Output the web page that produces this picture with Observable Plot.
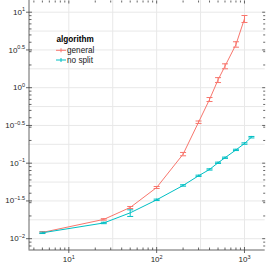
<!DOCTYPE html>
<html><head><meta charset="utf-8">
<script src="https://cdn.jsdelivr.net/npm/d3@7"></script>
<script src="https://cdn.jsdelivr.net/npm/@observablehq/plot@0.6"></script>
<style>
html,body{margin:0;padding:0;background:#fff;}
#wrap{position:relative;width:266px;height:266px;}
#legend{position:absolute;left:0;top:0;pointer-events:none;}
</style></head><body>
<div id="wrap"></div>
<script>
// ---- data ----
const algorithms = ["general", "no split"];
const colors = ["#F8766D", "#00BFC4"];

const generalN    = [5, 25, 50, 100, 200, 300, 400, 500, 600, 800, 1000];
const generalTime = [0.0121, 0.0180, 0.0259, 0.0476, 0.1315, 0.349, 0.698, 1.27, 1.93, 3.73, 8.18];
const generalLow  = [0.0118, 0.0176, 0.0251, 0.0462, 0.1253, 0.336, 0.656, 1.17, 1.78, 3.44, 7.31];
const generalHigh = [0.0124, 0.0184, 0.0267, 0.0491, 0.1387, 0.362, 0.741, 1.36, 2.07, 4.06, 9.04];

const noSplitN    = [5, 25, 50, 100, 200, 300, 400, 500, 600, 800, 1000, 1200];
const noSplitTime = [0.01197, 0.01614, 0.0220, 0.0327, 0.0507, 0.0681, 0.0826, 0.1012, 0.118, 0.150, 0.182, 0.221];
const noSplitLow  = [0.0117, 0.0158, 0.0197, 0.0320, 0.0496, 0.0668, 0.0810, 0.0992, 0.1157, 0.1470, 0.1780, 0.2160];
const noSplitHigh = [0.0122, 0.0165, 0.0241, 0.0334, 0.0518, 0.0694, 0.0842, 0.1032, 0.1203, 0.1530, 0.1860, 0.2260];

// tick positions (exponents of 10)
const xMajorExp = [1, 2, 3];
const xGridExp  = [1, 1.5, 2, 2.5, 3];
const yMajorExp = [-2, -1.5, -1, -0.5, 0, 0.5, 1];
const yGridExp  = [-2, -1.75, -1.5, -1.25, -1, -0.75, -0.5, -0.25, 0, 0.25, 0.5, 0.75, 1];
const minorMult = [2, 3, 4, 5, 6, 7, 8, 9];
const xDomain = [3.52, 1722];
const yDomain = [0.00708, 14.29];

// ---- build table ----
const rows = [];
generalN.forEach((n, i) => rows.push({algorithm: algorithms[0], n, t: generalTime[i], lo: generalLow[i], hi: generalHigh[i]}));
noSplitN.forEach((n, i) => rows.push({algorithm: algorithms[1], n, t: noSplitTime[i], lo: noSplitLow[i], hi: noSplitHigh[i]}));

const p10 = e => Math.pow(10, e);
const minorIn = (dom, decs) => decs.flatMap(k => minorMult.map(m => m * p10(k))).filter(v => v > dom[0] && v < dom[1]);
const xMinor = minorIn(xDomain, [0, 1, 2, 3]);
const yMinor = minorIn(yDomain, [-3, -2, -1, 0, 1]);
const xMajor = xMajorExp.map(p10);
const yMajor = yMajorExp.map(p10);

const fmtExp = d => {
  const e = Math.round(Math.log10(d) * 10) / 10;
  return "10^" + String(e).replace("-", "\u2212");
};

const tickShape = {draw(ctx, l) { ctx.moveTo(0, 0); ctx.lineTo(0, -l); }};
const hline = {draw(ctx, size) { const w = Math.sqrt(size / Math.PI); ctx.moveTo(-w, 0); ctx.lineTo(w, 0); }};
const axisColor = "#404040";
const tk = (data, o) => Plot.vector(data, {shape: tickShape, stroke: axisColor, strokeWidth: 0.8, strokeLinecap: "butt", ...o});

const plot = Plot.plot({
  width: 266, height: 266,
  marginLeft: 28.5, marginRight: 1.3, marginTop: 0, marginBottom: 16.5,
  style: {fontFamily: "'Liberation Sans', Arial, sans-serif", fontSize: "8px", color: "#262626", background: "#fff"},
  x: {type: "log", domain: xDomain, label: null},
  y: {type: "log", domain: yDomain, label: null},
  color: {domain: algorithms, range: colors},
  marks: [
    Plot.gridY(yGridExp.map(p10), {stroke: "#e8e8e8", strokeOpacity: 1}),
    Plot.gridX(xGridExp.map(p10), {stroke: "#e8e8e8", strokeOpacity: 1}),
    // axis lines
    Plot.ruleX([xDomain[0]], {stroke: axisColor, strokeWidth: 0.8}),
    Plot.ruleY([yDomain[0]], {stroke: axisColor, strokeWidth: 0.8}),
    // ticks: left
    tk(yMajor, {y: d => d, frameAnchor: "left", rotate: 90, anchor: "middle", length: 6}),
    tk(yMinor, {y: d => d, frameAnchor: "left", rotate: 90, anchor: "start", length: 2.5}),
    // right
    tk(yMajor, {y: d => d, frameAnchor: "right", rotate: -90, anchor: "start", length: 3}),
    tk(yMinor, {y: d => d, frameAnchor: "right", rotate: -90, anchor: "start", length: 2}),
    // bottom
    tk(xMajor, {x: d => d, frameAnchor: "bottom", rotate: 0, anchor: "middle", length: 6}),
    tk(xMinor, {x: d => d, frameAnchor: "bottom", rotate: 0, anchor: "start", length: 2.5}),
    // top
    tk(xMajor, {x: d => d, frameAnchor: "top", rotate: 180, anchor: "start", length: 3}),
    tk(xMinor, {x: d => d, frameAnchor: "top", rotate: 180, anchor: "start", length: 2}),
    // labels
    Plot.axisX({ticks: xMajor, tickSize: 0, tickPadding: 6.5, tickFormat: fmtExp, fontSize: 8, label: null}),
    Plot.axisY({ticks: yMajor, tickSize: 0, tickPadding: 4, tickFormat: fmtExp, fontSize: 8, label: null}),
    // data
    Plot.line(rows, {x: "n", y: "t", z: "algorithm", stroke: "algorithm", strokeWidth: 1}),
    Plot.ruleX(rows, {x: "n", y1: "lo", y2: "hi", stroke: "algorithm", strokeWidth: 1}),
    Plot.dot(rows, {x: "n", y: "lo", r: 3, symbol: hline, stroke: "algorithm", fill: "none", strokeWidth: 1}),
    Plot.dot(rows, {x: "n", y: "hi", r: 3, symbol: hline, stroke: "algorithm", fill: "none", strokeWidth: 1})
  ]
});

// superscripts in tick labels
plot.querySelectorAll('g[aria-label$="tick label"] text').forEach(t => {
  const s = t.textContent;
  if (!s.includes("^")) return;
  const [b, e] = s.split("^");
  t.textContent = b;
  const ts = document.createElementNS("http://www.w3.org/2000/svg", "tspan");
  ts.setAttribute("dy", "-3.5");
  ts.setAttribute("font-size", "5.5");
  ts.textContent = e;
  t.appendChild(ts);
});

const wrap = document.getElementById("wrap");
wrap.appendChild(plot);

// legend overlay
const lg = d3.select(wrap).append("svg").attr("id", "legend").attr("width", 266).attr("height", 266)
  .style("font-family", "'Liberation Sans', Arial, sans-serif");
lg.append("text").attr("x", 56.5).attr("y", 42.2).attr("font-size", 8.2).attr("font-weight", "bold")
  .attr("fill", "#000").text("algorithm");
algorithms.forEach((a, i) => {
  const cy = 50.3 + i * 9.7;
  lg.append("line").attr("x1", 56).attr("x2", 66).attr("y1", cy).attr("y2", cy).attr("stroke", colors[i]).attr("stroke-width", 1);
  lg.append("line").attr("x1", 61).attr("x2", 61).attr("y1", cy - 2).attr("y2", cy + 2).attr("stroke", colors[i]).attr("stroke-width", 1);
  lg.append("text").attr("x", 67).attr("y", cy + 3).attr("font-size", 8.2).attr("fill", "#1a1a1a").text(a);
});
</script>
</body></html>
